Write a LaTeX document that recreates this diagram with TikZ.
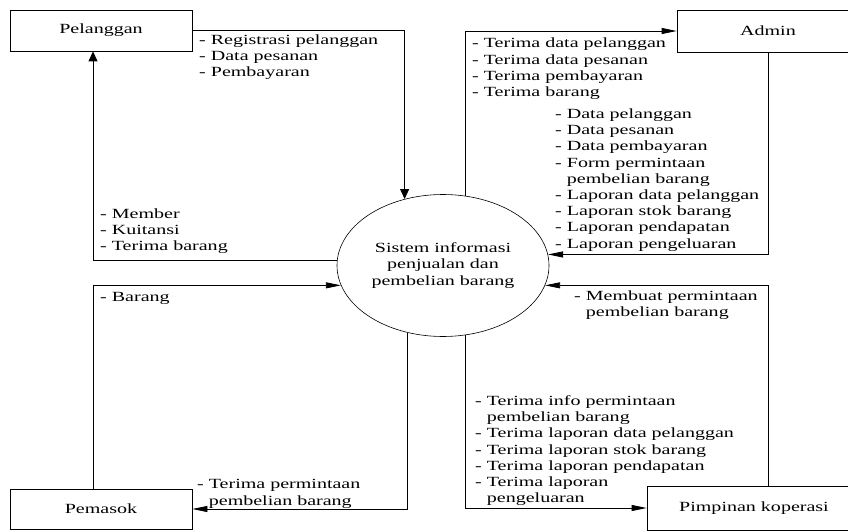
\documentclass[tikz,border=0pt]{standalone}
\usepackage{fontspec}
\setmainfont{Liberation Serif}[FakeStretch=1.43]
\usetikzlibrary{shapes.geometric}
\usetikzlibrary{arrows.meta}

\tikzset{
  entity/.style={draw, line width=0.8pt, rectangle, inner sep=0pt},
  process/.style={draw, line width=0.6pt, ellipse, minimum width=212pt, minimum height=142pt, inner sep=0pt, align=center},
  flowh/.style={draw, line width=0.8pt, -{Triangle[length=15pt,width=6pt]}},
  flowv/.style={draw, line width=0.8pt, -{Triangle[length=10pt,width=9pt]}},
  flowtext/.style={anchor=north west, inner sep=0pt, align=left}
}

\begin{document}
\begin{tikzpicture}[x=1pt, y=-1pt, font=\fontsize{14}{16.2}\selectfont]
  \newcommand{\wrapind}{\phantom{- }}
  \useasboundingbox (0,0) rectangle (848,532);

% external entities
  \foreach \name/\x/\y/\w/\h/\text in {pel/101/30.5/182/41/Pelanggan, adm/768/31/182/42/Admin, pem/101/509/182/40/Pemasok, pim/754/508/214/44/Pimpinan koperasi}{
    \node[entity, minimum width=\w, minimum height=\h] (\name) at (\x,\y) {\text};
  }

% main process
  \node[process] (sys) at (443,265.5) {Sistem informasi\\penjualan dan\\pembelian barang};

% pelanggan flows
  \draw[flowv] (pel.east) -| (sys.120);
  \draw[flowv] (sys.177) -| ([xshift=-8pt]pel.south);
  \node[flowtext] (pelout) at (199,34.5) {- Registrasi pelanggan\\- Data pesanan\\- Pembayaran};
  \node[flowtext] (pelin) at (100,208.5) {- Member\\- Kuitansi\\- Terima barang};

% admin flows
  \draw[flowh] (sys.72) |- (adm.west);
  \draw[flowh] (adm.south) |- (sys.6);
  \node[flowtext] (admin) at (472,38) {- Terima data pelanggan\\- Terima data pesanan\\- Terima pembayaran\\- Terima barang};
  \node[flowtext] (admout) at (555,108.5) {- Data pelanggan\\- Data pesanan\\- Data pembayaran\\- Form permintaan\\\wrapind pembelian barang\\- Laporan data pelanggan\\- Laporan stok barang\\- Laporan pendapatan\\- Laporan pengeluaran};

% pemasok flows
  \draw[flowh] ([xshift=-8pt]pem.north) |- (sys.191);
  \draw[flowh] (sys.-118) |- (pem.east);
  \node[flowtext] (pemin) at (100,292.5) {- Barang};
  \node[flowtext] (pemout) at (197,479.5) {- Terima permintaan\\\wrapind pembelian barang};

% pimpinan flows
  \draw[flowh] ([xshift=14pt]pim.north) |- (sys.-11);
  \draw[flowh] (sys.-72) |- (pim.west);
  \node[flowtext] (pimout) at (574,290.5) {- Membuat permintaan\\\wrapind pembelian barang};
  \node[flowtext] (pimin) at (475,395.5) {- Terima info permintaan\\\wrapind pembelian barang\\- Terima laporan data pelanggan\\- Terima laporan stok barang\\- Terima laporan pendapatan\\- Terima laporan\\\wrapind pengeluaran};

\end{tikzpicture}
\end{document}
